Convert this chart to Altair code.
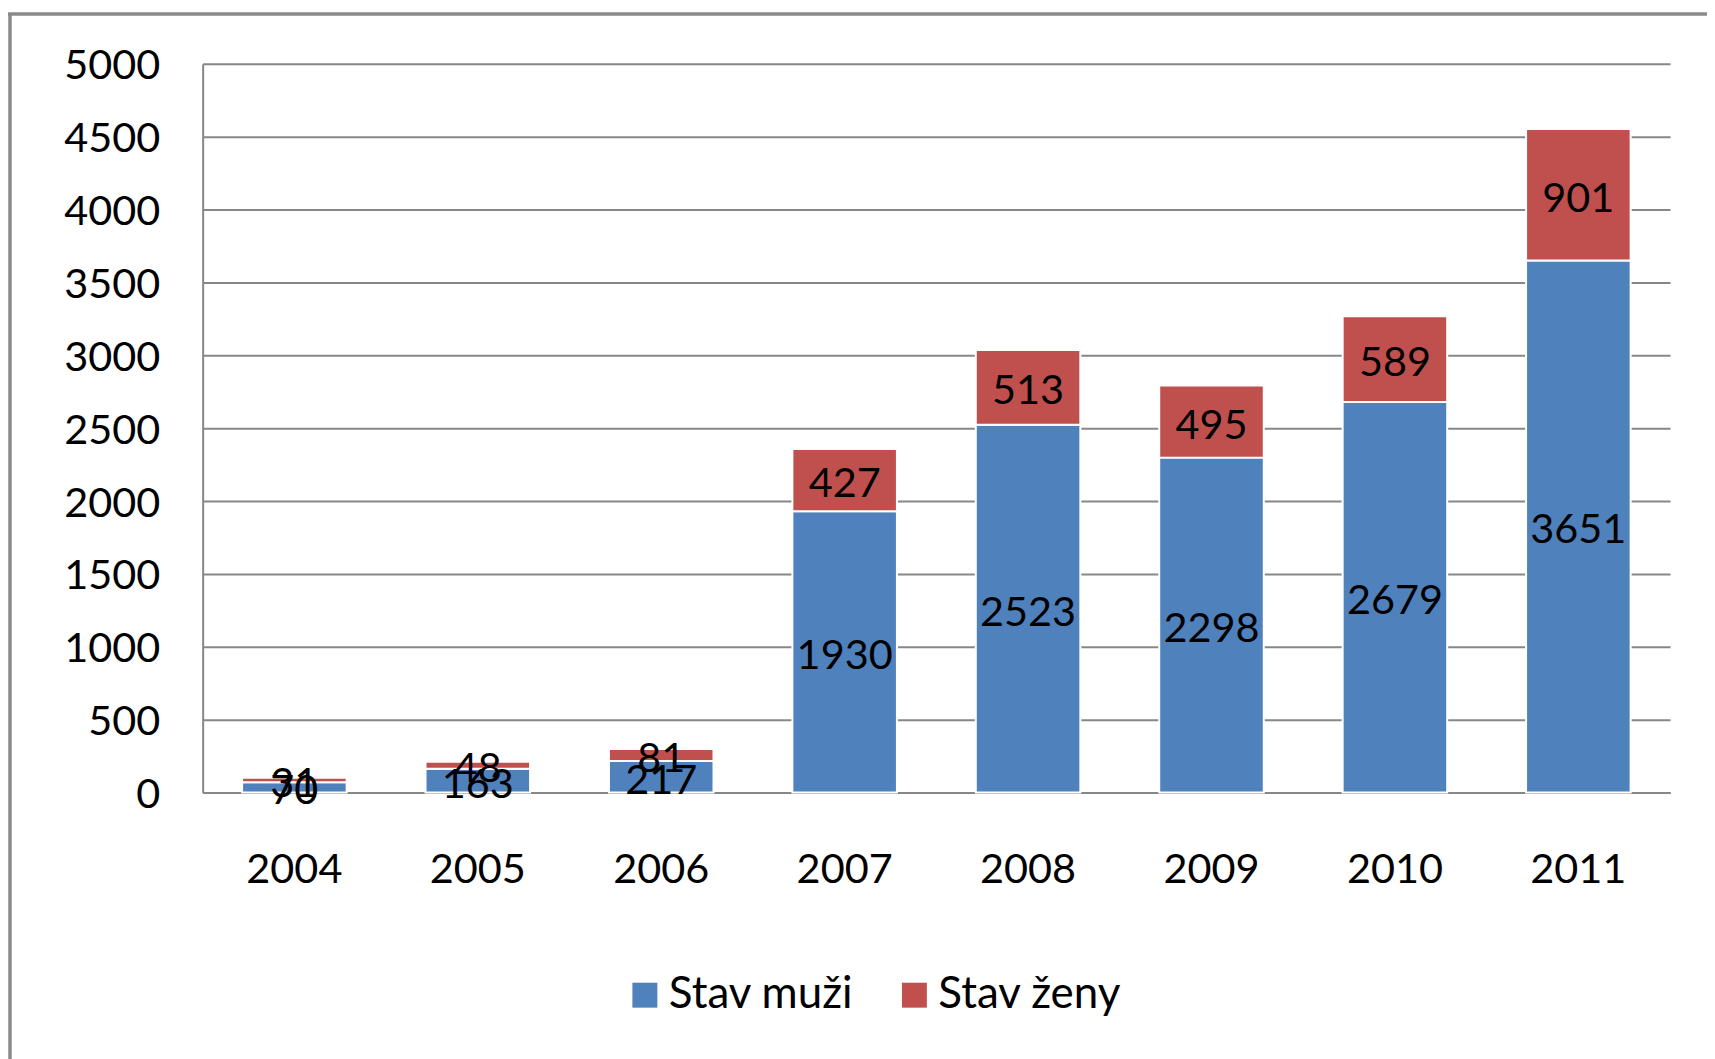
import altair as alt
import pandas as pd

# ---- data ----
years = ["2004", "2005", "2006", "2007", "2008", "2009", "2010", "2011"]
men = [70, 163, 217, 1930, 2523, 2298, 2679, 3651]
women = [31, 48, 81, 427, 513, 495, 589, 901]
series = ["Stav muži", "Stav ženy"]
colors = ["#4F81BD", "#C0504D"]
y_ticks = [0, 500, 1000, 1500, 2000, 2500, 3000, 3500, 4000, 4500, 5000]

rows = []
for i, yr in enumerate(years):
    rows.append({"year": yr, "series": series[0], "value": men[i], "order": 0})
    rows.append({"year": yr, "series": series[1], "value": women[i], "order": 1})
df = pd.DataFrame(rows)

W, H = 1470, 730
FONT = "Lato"
FS = 41.5
GRID = "#878787"

base = alt.Chart(df).transform_stack(
    stack="value",
    groupby=["year"],
    as_=["v0", "v1"],
    sort=[alt.SortField("order", order="ascending")],
).transform_calculate(mid="(datum.v0 + datum.v1) / 2")

x_enc = alt.X(
    "year:N",
    sort=years,
    scale=alt.Scale(paddingInner=0.43, paddingOuter=0.215),
    axis=alt.Axis(
        title=None, labelAngle=0, labelFont=FONT, labelFontSize=FS,
        labelColor="#000000", labelPadding=78, labelBaseline="middle",
        ticks=False, domainColor=GRID, domainWidth=2, grid=False,
    ),
)

y_axis = alt.Axis(
    title=None, values=y_ticks, format="d", labelFont=FONT, labelFontSize=FS,
    labelColor="#000000", labelPadding=43, labelOffset=3, ticks=False,
    domainColor=GRID, domainWidth=2, gridColor=GRID, gridWidth=2,
)

bars = base.mark_bar(stroke="white", strokeWidth=2).encode(
    x=x_enc,
    y=alt.Y("v0:Q", scale=alt.Scale(domain=[0, 5000], nice=False), axis=y_axis),
    y2="v1:Q",
    color=alt.Color(
        "series:N",
        scale=alt.Scale(domain=series, range=colors),
        legend=alt.Legend(
            title=None, orient="none", legendX=421, legendY=911,
            direction="horizontal",
            symbolType="square", symbolSize=625,
            symbolStrokeWidth=0, symbolOpacity=1,
            labelFont=FONT, labelFontSize=44, labelLimit=0,
            labelColor="#000000", labelOffset=2, columnPadding=38, padding=0,
        ),
    ),
    order=alt.Order("order:Q"),
)

labels = base.mark_text(font=FONT, fontSize=FS, color="#000000", baseline="middle", dy=5).encode(
    x=alt.X("year:N", sort=years),
    y=alt.Y("mid:Q"),
    text=alt.Text("value:Q"),
)

frame_df = pd.DataFrame({"k": [0]})
frame_left = alt.Chart(frame_df).mark_rule(color="#8a8a8a", strokeWidth=3.5).encode(
    x=alt.value(-193), y=alt.value(-50), y2=alt.value(1000)
)
frame_top = alt.Chart(frame_df).mark_rule(color="#8a8a8a", strokeWidth=3.5).encode(
    x=alt.value(-195), x2=alt.value(1520), y=alt.value(-50)
)

chart = alt.layer(frame_left, frame_top, bars, labels).properties(
    width=W, height=H,
    autosize=alt.AutoSizeParams(type="none"),
    padding={"left": 195, "top": 55, "right": 37, "bottom": 266},
    background="white",
).configure_view(stroke="transparent")

chart.save("out.html", embed_options={"renderer": "svg", "actions": False})
